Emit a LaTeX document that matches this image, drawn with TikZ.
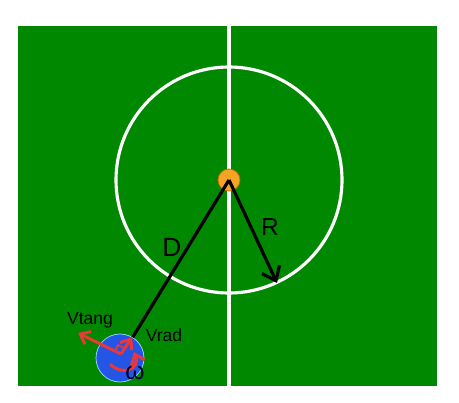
\documentclass[tikz,border=0pt]{standalone}
\usepackage{fontspec}
\setmainfont{Liberation Sans}
\usetikzlibrary{arrows.meta}

\begin{document}
\begin{tikzpicture}[x=0.02cm, y=-0.02cm]
\definecolor{cesped}{RGB}{0,136,0}
\definecolor{naranja}{RGB}{245,165,35}
\definecolor{azulrobot}{RGB}{35,85,230}
\definecolor{rojo}{RGB}{235,55,55}
	\useasboundingbox (0,0) rectangle (459,402);
	\fill[cesped] (18,26) rectangle (437,386);
	\draw[white, line width=2pt] (229,26) -- (229,386);
	\draw[white, line width=1.8pt] (229,180) circle[radius=113];
	
	\node[circle, fill=naranja, draw=orange!80!black, thin, inner sep=0pt, minimum size=0.44cm] (balon) at (229,180) {};
	\node[circle, fill=azulrobot, draw=cyan!40, inner sep=0pt, minimum size=0.96cm] (robot) at (120,358) {};
	\coordinate (borde) at (277,283);
	
	\draw[line width=1.8pt] (balon.center) -- (robot);
	\draw[line width=1.8pt, -{Straight Barb[length=7pt, width=11pt]}] (balon.center) -- (borde);
	
	\draw[rojo, line width=1.7pt, -{Straight Barb[length=5pt, width=8pt]}] (121,354) -- (78,333);
	\draw[rojo, line width=1.7pt, -{Straight Barb[length=5pt, width=8pt]}] (121,354) -- (132,337);
	\draw[rojo, line width=1pt] (124,348) -- (118,345) -- (115,351);
	\draw[rojo, line width=1.7pt, -{Straight Barb[length=5pt, width=8pt]}] (110,364) .. controls (121,376) and (141,370) .. (134,352);
	
	\node[font=\fontsize{15}{17}\selectfont] (d) at (172,247) {D};
	\node[font=\fontsize{14}{16}\selectfont] (r) at (270,227) {R};
	\node[font=\fontsize{10}{12}\selectfont] (vtang) at (90,320) {Vtang};
	\node[font=\fontsize{10}{12}\selectfont] (vrad) at (164,335) {Vrad};
	\node[font=\fontsize{14}{16}\selectfont, text=blue!20!black] (omega) at (135,373) {ω};
\end{tikzpicture}
\end{document}
